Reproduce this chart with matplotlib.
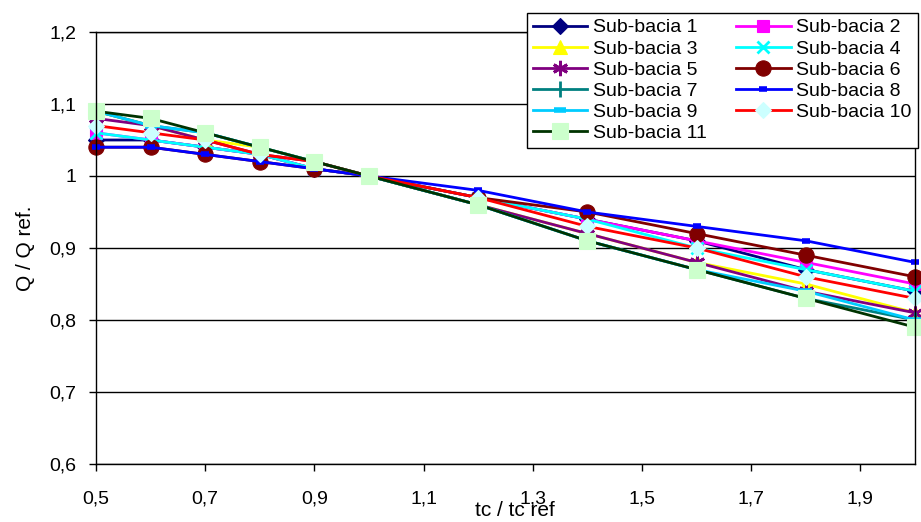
import matplotlib
matplotlib.use("Agg")
import matplotlib.pyplot as plt
from matplotlib.ticker import FixedLocator, FuncFormatter

plt.rcParams['font.family'] = ['Liberation Sans', 'DejaVu Sans']

# tc / tc ref
x = [0.5, 0.6, 0.7, 0.8, 0.9, 1.0, 1.2, 1.4, 1.6, 1.8, 2.0]

sub1 = [1.05, 1.05, 1.04, 1.03, 1.01, 1.00, 0.97, 0.94, 0.91, 0.87, 0.84]
sub2 = [1.06, 1.05, 1.04, 1.03, 1.01, 1.00, 0.97, 0.94, 0.91, 0.88, 0.85]
sub3 = [1.09, 1.07, 1.05, 1.04, 1.02, 1.00, 0.96, 0.92, 0.88, 0.85, 0.81]
sub4 = [1.06, 1.05, 1.04, 1.03, 1.01, 1.00, 0.97, 0.94, 0.90, 0.87, 0.84]
sub5 = [1.08, 1.07, 1.05, 1.03, 1.02, 1.00, 0.96, 0.92, 0.88, 0.84, 0.81]
sub6 = [1.04, 1.04, 1.03, 1.02, 1.01, 1.00, 0.97, 0.95, 0.92, 0.89, 0.86]
sub7 = [1.09, 1.07, 1.06, 1.04, 1.02, 1.00, 0.96, 0.91, 0.87, 0.83, 0.80]
sub8 = [1.04, 1.04, 1.03, 1.02, 1.01, 1.00, 0.98, 0.95, 0.93, 0.91, 0.88]
sub9 = [1.09, 1.07, 1.06, 1.04, 1.02, 1.00, 0.96, 0.91, 0.87, 0.84, 0.80]
sub10 = [1.07, 1.06, 1.05, 1.03, 1.02, 1.00, 0.97, 0.93, 0.90, 0.86, 0.83]
sub11 = [1.09, 1.08, 1.06, 1.04, 1.02, 1.00, 0.96, 0.91, 0.87, 0.83, 0.79]

labels = ["Sub-bacia %d" % i for i in range(1, 12)]
series = [sub1, sub2, sub3, sub4, sub5, sub6, sub7, sub8, sub9, sub10, sub11]

# (line colour, marker, marker face, marker size)
styles = [
    ("#000080", "D", "#000080", 8),
    ("#FF00FF", "s", "#FF00FF", 9),
    ("#FFFF00", "^", "#FFFF00", 10),
    ("#00FFFF", "x", "#00FFFF", 9),
    ("#800080", (6, 2, 0), "#800080", 11),
    ("#800000", "o", "#800000", 11),
    ("#008080", "|", "#008080", 11),
    ("#0000FF", "_", "#0000FF", 6),
    ("#00CCFF", "_", "#00CCFF", 9),
    ("#FF0000", "D", "#CCFFFF", 8),
    ("#003300", "s", "#CCFFCC", 11),
]

fig = plt.figure(figsize=(9.21, 5.22), dpi=100)
ax = fig.add_axes([96 / 921, 1 - 464 / 522, (915 - 96) / 921, (464 - 32) / 522])

handles = []
for vals, lab, (col, mk, face, ms) in zip(series, labels, styles):
    mew = 2.0 if mk in ("x", "|", "_") or isinstance(mk, tuple) else 0.8
    mec = col if mk not in ("s", "D") else face
    if mk == "_":
        mew = 4
    h, = ax.plot(x, vals, color=col, lw=2, marker=mk, ms=ms, mfc=face, mec=mec,
                 mew=mew, label=lab, clip_on=False)
    handles.append(h)

ax.set_xlim(0.5, 2.0)
ax.set_ylim(0.6, 1.2)
ax.xaxis.set_major_locator(FixedLocator([0.5, 0.7, 0.9, 1.1, 1.3, 1.5, 1.7, 1.9]))
ax.yaxis.set_major_locator(FixedLocator([0.6, 0.7, 0.8, 0.9, 1.0, 1.1, 1.2]))


def comma(v, pos):
    s = ("%.1f" % v).rstrip("0").rstrip(".")
    return s.replace(".", ",")


ax.xaxis.set_major_formatter(FuncFormatter(comma))
ax.yaxis.set_major_formatter(FuncFormatter(comma))
ax.tick_params(axis="x", direction="out", length=5, width=1, pad=14, labelsize=14)
ax.tick_params(axis="y", direction="out", length=5, width=1, pad=9, labelsize=14)
ax.yaxis.grid(True, color="#000000", lw=1)
ax.set_axisbelow(True)
for sp in ax.spines.values():
    sp.set_color("#000000")
    sp.set_linewidth(1)

ax.set_ylabel("Q / Q ref.", fontsize=15)
ax.yaxis.set_label_coords(-0.075, 0.5)
ax.set_xlabel("tc / tc ref", fontsize=15)
ax.xaxis.set_label_coords(0.512, -0.085)

# row-wise order: 1 2 / 3 4 / ... / 11
order = [0, 2, 4, 6, 8, 10, 1, 3, 5, 7, 9]
leg = fig.legend([handles[i] for i in order], [labels[i] for i in order],
                 loc="upper left", bbox_to_anchor=(527 / 921, 1 - 13 / 522),
                 ncol=2, fontsize=14, labelspacing=0.18, handlelength=2.8,
                 handletextpad=0.3, columnspacing=1.5, borderpad=0.3,
                 fancybox=False, framealpha=1, edgecolor="#000000",
                 borderaxespad=0)
leg.get_frame().set_linewidth(1)

fig.savefig("out.png", dpi=100)
